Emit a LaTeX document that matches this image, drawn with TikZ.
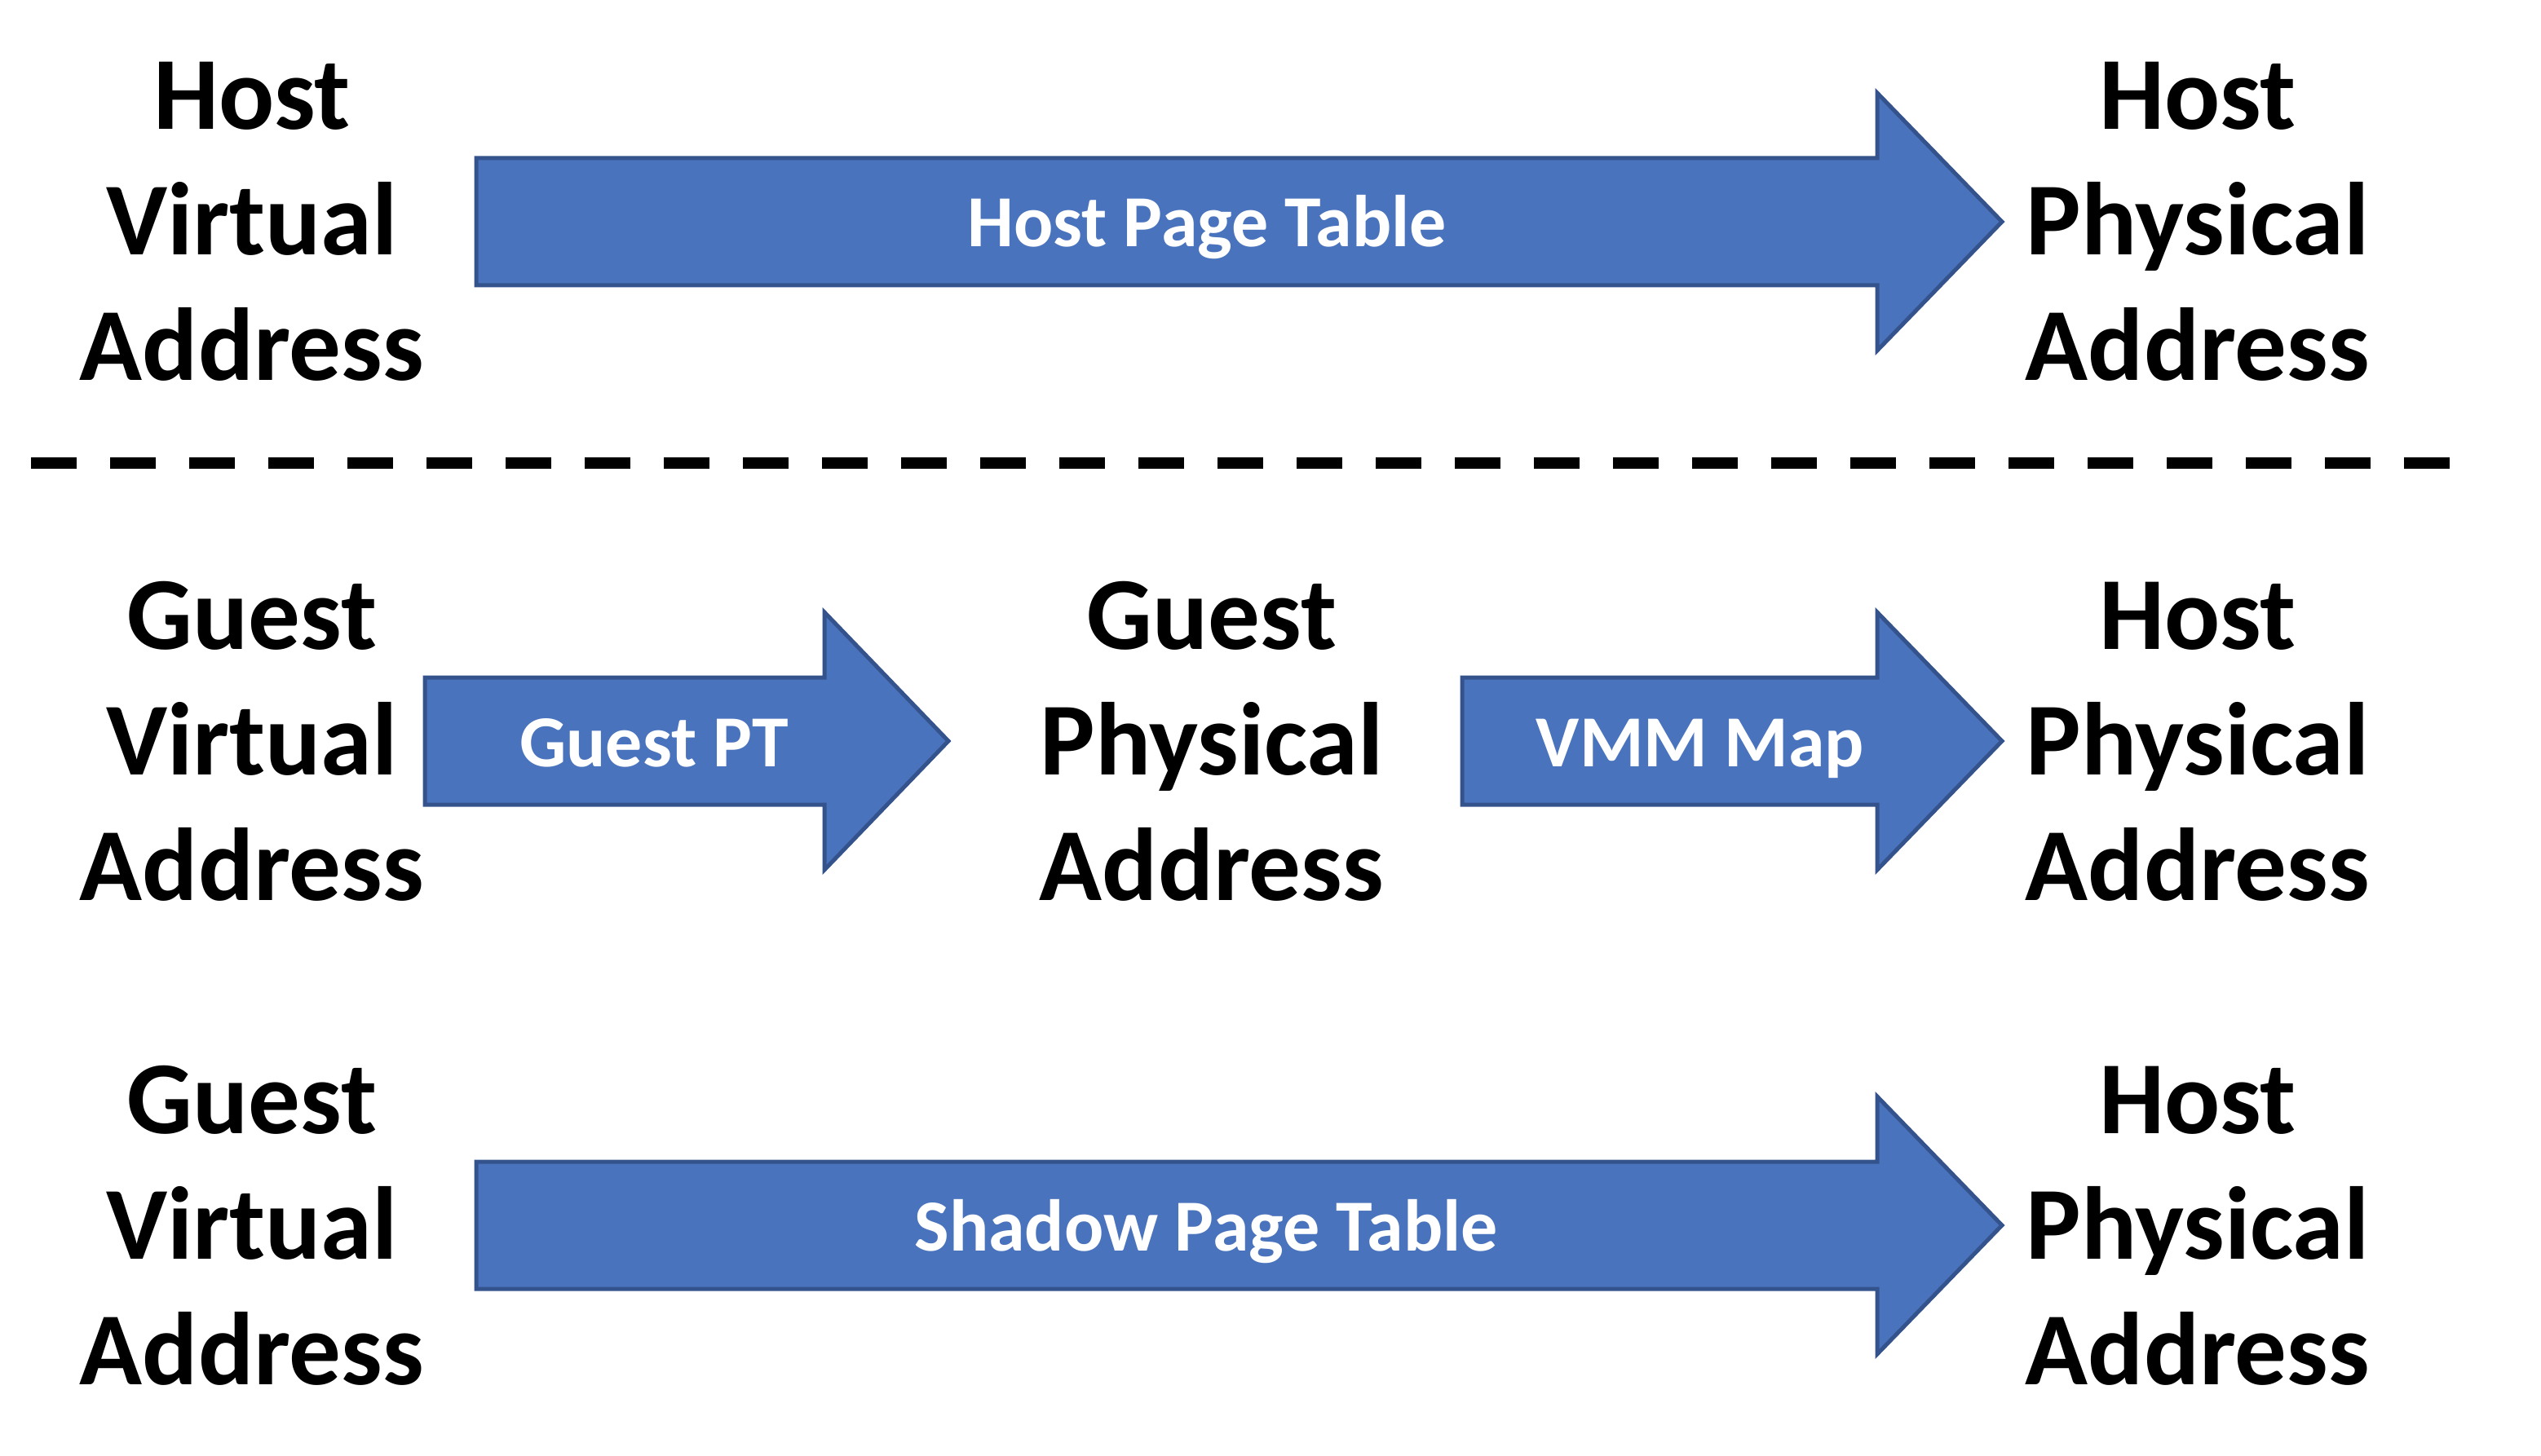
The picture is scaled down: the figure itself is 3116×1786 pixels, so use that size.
\documentclass[tikz,border=0pt]{standalone}
\usepackage{fontspec}
\setmainfont{Carlito}
\definecolor{arrowfill}{HTML}{4A73BE}
\definecolor{arrowline}{HTML}{34538C}
\newcommand\addrlines[3]{\rule{0pt}{37.5pt}#1\\#2\\#3\rule[-17pt]{0pt}{17pt}}
\newcommand\blockarr[4]{%
  \draw[blockarrow] (#1,#4-78) -- (#2,#4-78) -- (#2,#4-158) -- (#3,#4)
    -- (#2,#4+158) -- (#2,#4+78) -- (#1,#4+78) -- cycle;}
\begin{document}
\begin{tikzpicture}[x=0.25pt,y=-0.25pt,
  addr/.style={font=\fontsize{31.75pt}{38.5pt}\selectfont\bfseries, align=center, inner sep=0pt},
  lbl/.style={font=\fontsize{22.5pt}{27pt}\selectfont\bfseries, text=white, inner sep=0pt, anchor=base},
  blockarrow/.style={fill=arrowfill, draw=arrowline, line width=1.25pt, line join=miter},
  sepline/.style={line width=3.5pt, dash pattern=on 13.925pt off 10.325pt}]
\useasboundingbox (0,0) rectangle (3116,1786);

% row 1
\node[addr] (hva) at (309,272) {\addrlines{Host}{Virtual}{Address}};
\node[addr] (hpa1) at (2695,272) {\addrlines{Host}{Physical}{Address}};
\blockarr{584}{2302}{2455}{272}
\node[lbl] (hpt) at (1480,303) {Host Page Table};

% separator
\coordinate (sepl) at (38.3,568);
\coordinate (sepr) at (3004,568);
\draw[sepline] (sepl) -- (sepr);

% row 2
\node[addr] (gva1) at (309,909) {\addrlines{Guest}{Virtual}{Address}};
\node[addr] (gpa) at (1486,909) {\addrlines{Guest}{Physical}{Address}};
\node[addr] (hpa2) at (2695,909) {\addrlines{Host}{Physical}{Address}};
\blockarr{521}{1011}{1163}{909}
\node[lbl] (gpt) at (802,940) {Guest PT};
\blockarr{1793}{2302}{2455}{909}
\node[lbl] (vmm) at (2085,940) {VMM Map};

% row 3
\node[addr] (gva2) at (309,1503) {\addrlines{Guest}{Virtual}{Address}};
\node[addr] (hpa3) at (2695,1503) {\addrlines{Host}{Physical}{Address}};
\blockarr{584}{2302}{2455}{1503}
\node[lbl] (spt) at (1479,1534) {Shadow Page Table};
\end{tikzpicture}
\end{document}
